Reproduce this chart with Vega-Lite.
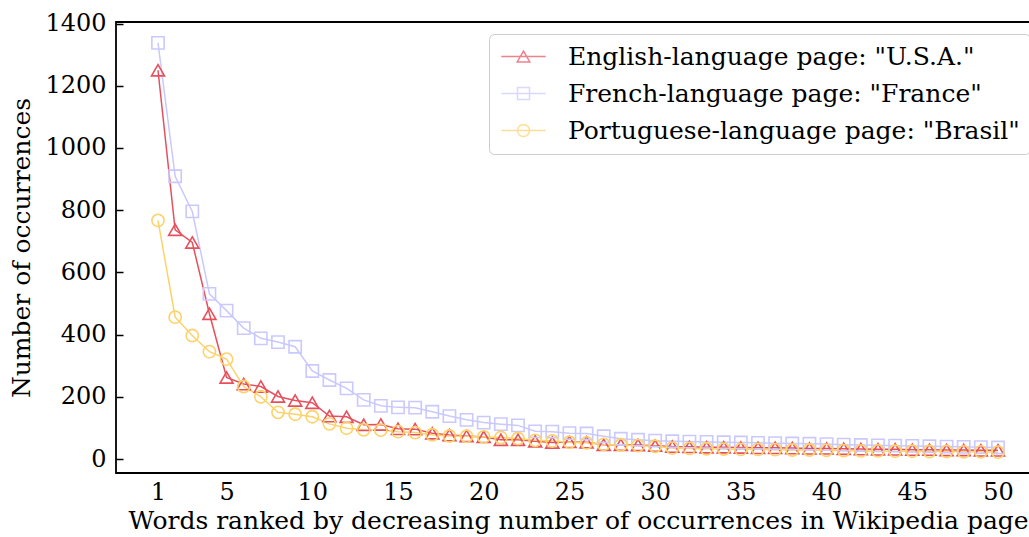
{
  "$schema": "https://vega.github.io/schema/vega-lite/v6.json",
  "width": 924,
  "height": 451,
  "autosize": {"type": "none"},
  "padding": {"left": 116, "top": 22, "right": 0, "bottom": 64},
  "background": "white",
  "config": {
    "font": "DejaVu Serif",
    "view": {"stroke": "#000000", "strokeWidth": 1.8},
    "axis": {
      "labelFont": "DejaVu Serif",
      "titleFont": "DejaVu Serif",
      "labelFontSize": 24,
      "titleFontSize": 25,
      "titleFontWeight": "normal",
      "labelColor": "#000000",
      "titleColor": "#000000",
      "grid": false,
      "domain": false
    }
  },
  "data": {
    "values": [
      {"rank": 1, "count": 1250, "page": "English-language page: \"U.S.A.\""},
      {"rank": 2, "count": 737, "page": "English-language page: \"U.S.A.\""},
      {"rank": 3, "count": 696, "page": "English-language page: \"U.S.A.\""},
      {"rank": 4, "count": 467, "page": "English-language page: \"U.S.A.\""},
      {"rank": 5, "count": 262, "page": "English-language page: \"U.S.A.\""},
      {"rank": 6, "count": 241, "page": "English-language page: \"U.S.A.\""},
      {"rank": 7, "count": 233, "page": "English-language page: \"U.S.A.\""},
      {"rank": 8, "count": 201, "page": "English-language page: \"U.S.A.\""},
      {"rank": 9, "count": 188, "page": "English-language page: \"U.S.A.\""},
      {"rank": 10, "count": 181, "page": "English-language page: \"U.S.A.\""},
      {"rank": 11, "count": 138, "page": "English-language page: \"U.S.A.\""},
      {"rank": 12, "count": 136, "page": "English-language page: \"U.S.A.\""},
      {"rank": 13, "count": 110, "page": "English-language page: \"U.S.A.\""},
      {"rank": 14, "count": 111, "page": "English-language page: \"U.S.A.\""},
      {"rank": 15, "count": 97, "page": "English-language page: \"U.S.A.\""},
      {"rank": 16, "count": 96, "page": "English-language page: \"U.S.A.\""},
      {"rank": 17, "count": 83, "page": "English-language page: \"U.S.A.\""},
      {"rank": 18, "count": 77, "page": "English-language page: \"U.S.A.\""},
      {"rank": 19, "count": 74, "page": "English-language page: \"U.S.A.\""},
      {"rank": 20, "count": 71, "page": "English-language page: \"U.S.A.\""},
      {"rank": 21, "count": 62, "page": "English-language page: \"U.S.A.\""},
      {"rank": 22, "count": 62, "page": "English-language page: \"U.S.A.\""},
      {"rank": 23, "count": 57, "page": "English-language page: \"U.S.A.\""},
      {"rank": 24, "count": 53, "page": "English-language page: \"U.S.A.\""},
      {"rank": 25, "count": 55, "page": "English-language page: \"U.S.A.\""},
      {"rank": 26, "count": 54, "page": "English-language page: \"U.S.A.\""},
      {"rank": 27, "count": 46, "page": "English-language page: \"U.S.A.\""},
      {"rank": 28, "count": 46, "page": "English-language page: \"U.S.A.\""},
      {"rank": 29, "count": 45, "page": "English-language page: \"U.S.A.\""},
      {"rank": 30, "count": 43, "page": "English-language page: \"U.S.A.\""},
      {"rank": 31, "count": 40, "page": "English-language page: \"U.S.A.\""},
      {"rank": 32, "count": 39, "page": "English-language page: \"U.S.A.\""},
      {"rank": 33, "count": 38, "page": "English-language page: \"U.S.A.\""},
      {"rank": 34, "count": 38, "page": "English-language page: \"U.S.A.\""},
      {"rank": 35, "count": 37, "page": "English-language page: \"U.S.A.\""},
      {"rank": 36, "count": 36, "page": "English-language page: \"U.S.A.\""},
      {"rank": 37, "count": 36, "page": "English-language page: \"U.S.A.\""},
      {"rank": 38, "count": 35, "page": "English-language page: \"U.S.A.\""},
      {"rank": 39, "count": 34, "page": "English-language page: \"U.S.A.\""},
      {"rank": 40, "count": 34, "page": "English-language page: \"U.S.A.\""},
      {"rank": 41, "count": 33, "page": "English-language page: \"U.S.A.\""},
      {"rank": 42, "count": 32, "page": "English-language page: \"U.S.A.\""},
      {"rank": 43, "count": 31, "page": "English-language page: \"U.S.A.\""},
      {"rank": 44, "count": 31, "page": "English-language page: \"U.S.A.\""},
      {"rank": 45, "count": 30, "page": "English-language page: \"U.S.A.\""},
      {"rank": 46, "count": 30, "page": "English-language page: \"U.S.A.\""},
      {"rank": 47, "count": 29, "page": "English-language page: \"U.S.A.\""},
      {"rank": 48, "count": 29, "page": "English-language page: \"U.S.A.\""},
      {"rank": 49, "count": 28, "page": "English-language page: \"U.S.A.\""},
      {"rank": 50, "count": 28, "page": "English-language page: \"U.S.A.\""},
      {"rank": 1, "count": 1338, "page": "French-language page: \"France\""},
      {"rank": 2, "count": 909, "page": "French-language page: \"France\""},
      {"rank": 3, "count": 796, "page": "French-language page: \"France\""},
      {"rank": 4, "count": 531, "page": "French-language page: \"France\""},
      {"rank": 5, "count": 477, "page": "French-language page: \"France\""},
      {"rank": 6, "count": 421, "page": "French-language page: \"France\""},
      {"rank": 7, "count": 388, "page": "French-language page: \"France\""},
      {"rank": 8, "count": 376, "page": "French-language page: \"France\""},
      {"rank": 9, "count": 361, "page": "French-language page: \"France\""},
      {"rank": 10, "count": 283, "page": "French-language page: \"France\""},
      {"rank": 11, "count": 254, "page": "French-language page: \"France\""},
      {"rank": 12, "count": 227, "page": "French-language page: \"France\""},
      {"rank": 13, "count": 190, "page": "French-language page: \"France\""},
      {"rank": 14, "count": 171, "page": "French-language page: \"France\""},
      {"rank": 15, "count": 166, "page": "French-language page: \"France\""},
      {"rank": 16, "count": 165, "page": "French-language page: \"France\""},
      {"rank": 17, "count": 152, "page": "French-language page: \"France\""},
      {"rank": 18, "count": 138, "page": "French-language page: \"France\""},
      {"rank": 19, "count": 126, "page": "French-language page: \"France\""},
      {"rank": 20, "count": 117, "page": "French-language page: \"France\""},
      {"rank": 21, "count": 112, "page": "French-language page: \"France\""},
      {"rank": 22, "count": 108, "page": "French-language page: \"France\""},
      {"rank": 23, "count": 89, "page": "French-language page: \"France\""},
      {"rank": 24, "count": 88, "page": "French-language page: \"France\""},
      {"rank": 25, "count": 83, "page": "French-language page: \"France\""},
      {"rank": 26, "count": 82, "page": "French-language page: \"France\""},
      {"rank": 27, "count": 73, "page": "French-language page: \"France\""},
      {"rank": 28, "count": 65, "page": "French-language page: \"France\""},
      {"rank": 29, "count": 62, "page": "French-language page: \"France\""},
      {"rank": 30, "count": 59, "page": "French-language page: \"France\""},
      {"rank": 31, "count": 57, "page": "French-language page: \"France\""},
      {"rank": 32, "count": 56, "page": "French-language page: \"France\""},
      {"rank": 33, "count": 55, "page": "French-language page: \"France\""},
      {"rank": 34, "count": 54, "page": "French-language page: \"France\""},
      {"rank": 35, "count": 53, "page": "French-language page: \"France\""},
      {"rank": 36, "count": 52, "page": "French-language page: \"France\""},
      {"rank": 37, "count": 51, "page": "French-language page: \"France\""},
      {"rank": 38, "count": 50, "page": "French-language page: \"France\""},
      {"rank": 39, "count": 49, "page": "French-language page: \"France\""},
      {"rank": 40, "count": 48, "page": "French-language page: \"France\""},
      {"rank": 41, "count": 46, "page": "French-language page: \"France\""},
      {"rank": 42, "count": 45, "page": "French-language page: \"France\""},
      {"rank": 43, "count": 44, "page": "French-language page: \"France\""},
      {"rank": 44, "count": 43, "page": "French-language page: \"France\""},
      {"rank": 45, "count": 42, "page": "French-language page: \"France\""},
      {"rank": 46, "count": 41, "page": "French-language page: \"France\""},
      {"rank": 47, "count": 40, "page": "French-language page: \"France\""},
      {"rank": 48, "count": 39, "page": "French-language page: \"France\""},
      {"rank": 49, "count": 38, "page": "French-language page: \"France\""},
      {"rank": 50, "count": 37, "page": "French-language page: \"France\""},
      {"rank": 1, "count": 767, "page": "Portuguese-language page: \"Brasil\""},
      {"rank": 2, "count": 456, "page": "Portuguese-language page: \"Brasil\""},
      {"rank": 3, "count": 397, "page": "Portuguese-language page: \"Brasil\""},
      {"rank": 4, "count": 345, "page": "Portuguese-language page: \"Brasil\""},
      {"rank": 5, "count": 321, "page": "Portuguese-language page: \"Brasil\""},
      {"rank": 6, "count": 233, "page": "Portuguese-language page: \"Brasil\""},
      {"rank": 7, "count": 200, "page": "Portuguese-language page: \"Brasil\""},
      {"rank": 8, "count": 150, "page": "Portuguese-language page: \"Brasil\""},
      {"rank": 9, "count": 144, "page": "Portuguese-language page: \"Brasil\""},
      {"rank": 10, "count": 136, "page": "Portuguese-language page: \"Brasil\""},
      {"rank": 11, "count": 113, "page": "Portuguese-language page: \"Brasil\""},
      {"rank": 12, "count": 99, "page": "Portuguese-language page: \"Brasil\""},
      {"rank": 13, "count": 94, "page": "Portuguese-language page: \"Brasil\""},
      {"rank": 14, "count": 93, "page": "Portuguese-language page: \"Brasil\""},
      {"rank": 15, "count": 88, "page": "Portuguese-language page: \"Brasil\""},
      {"rank": 16, "count": 85, "page": "Portuguese-language page: \"Brasil\""},
      {"rank": 17, "count": 78, "page": "Portuguese-language page: \"Brasil\""},
      {"rank": 18, "count": 74, "page": "Portuguese-language page: \"Brasil\""},
      {"rank": 19, "count": 73, "page": "Portuguese-language page: \"Brasil\""},
      {"rank": 20, "count": 71, "page": "Portuguese-language page: \"Brasil\""},
      {"rank": 21, "count": 69, "page": "Portuguese-language page: \"Brasil\""},
      {"rank": 22, "count": 66, "page": "Portuguese-language page: \"Brasil\""},
      {"rank": 23, "count": 60, "page": "Portuguese-language page: \"Brasil\""},
      {"rank": 24, "count": 58, "page": "Portuguese-language page: \"Brasil\""},
      {"rank": 25, "count": 54, "page": "Portuguese-language page: \"Brasil\""},
      {"rank": 26, "count": 52, "page": "Portuguese-language page: \"Brasil\""},
      {"rank": 27, "count": 47, "page": "Portuguese-language page: \"Brasil\""},
      {"rank": 28, "count": 45, "page": "Portuguese-language page: \"Brasil\""},
      {"rank": 29, "count": 43, "page": "Portuguese-language page: \"Brasil\""},
      {"rank": 30, "count": 41, "page": "Portuguese-language page: \"Brasil\""},
      {"rank": 31, "count": 35, "page": "Portuguese-language page: \"Brasil\""},
      {"rank": 32, "count": 34, "page": "Portuguese-language page: \"Brasil\""},
      {"rank": 33, "count": 33, "page": "Portuguese-language page: \"Brasil\""},
      {"rank": 34, "count": 32, "page": "Portuguese-language page: \"Brasil\""},
      {"rank": 35, "count": 31, "page": "Portuguese-language page: \"Brasil\""},
      {"rank": 36, "count": 31, "page": "Portuguese-language page: \"Brasil\""},
      {"rank": 37, "count": 30, "page": "Portuguese-language page: \"Brasil\""},
      {"rank": 38, "count": 29, "page": "Portuguese-language page: \"Brasil\""},
      {"rank": 39, "count": 29, "page": "Portuguese-language page: \"Brasil\""},
      {"rank": 40, "count": 28, "page": "Portuguese-language page: \"Brasil\""},
      {"rank": 41, "count": 27, "page": "Portuguese-language page: \"Brasil\""},
      {"rank": 42, "count": 26, "page": "Portuguese-language page: \"Brasil\""},
      {"rank": 43, "count": 26, "page": "Portuguese-language page: \"Brasil\""},
      {"rank": 44, "count": 25, "page": "Portuguese-language page: \"Brasil\""},
      {"rank": 45, "count": 25, "page": "Portuguese-language page: \"Brasil\""},
      {"rank": 46, "count": 24, "page": "Portuguese-language page: \"Brasil\""},
      {"rank": 47, "count": 24, "page": "Portuguese-language page: \"Brasil\""},
      {"rank": 48, "count": 23, "page": "Portuguese-language page: \"Brasil\""},
      {"rank": 49, "count": 23, "page": "Portuguese-language page: \"Brasil\""},
      {"rank": 50, "count": 22, "page": "Portuguese-language page: \"Brasil\""}
    ]
  },
  "encoding": {
    "x": {
      "field": "rank",
      "type": "quantitative",
      "scale": {"domain": [-1.45, 52.45], "nice": false, "zero": false},
      "axis": {
        "title": "Words ranked by decreasing number of occurrences in Wikipedia page",
        "values": [1, 5, 10, 15, 20, 25, 30, 35, 40, 45, 50],
        "format": "d",
        "ticks": false,
        "labelPadding": 7,
        "titlePadding": 4
      }
    },
    "y": {
      "field": "count",
      "type": "quantitative",
      "scale": {"domain": [-45, 1405], "nice": false, "zero": false},
      "axis": {
        "title": "Number of occurrences",
        "values": [0, 200, 400, 600, 800, 1000, 1200, 1400],
        "format": "d",
        "ticks": true,
        "tickSize": -7,
        "tickWidth": 1.5,
        "tickColor": "#000000",
        "labelPadding": 17,
        "titlePadding": 10
      }
    },
    "color": {
      "field": "page",
      "type": "nominal",
      "scale": {
        "domain": ["English-language page: \"U.S.A.\"", "French-language page: \"France\"", "Portuguese-language page: \"Brasil\""],
        "range": ["#e6505d", "#c9c9ff", "#fcd26b"]
      },
      "legend": {
        "title": null,
        "orient": "none",
        "legendX": 373,
        "legendY": 12,
        "labelFont": "DejaVu Serif",
        "labelFontSize": 25,
        "labelLimit": 800,
        "labelColor": "#000000",
        "symbolSize": 144,
        "symbolStrokeWidth": 1.5,
        "padding": 10,
        "rowPadding": 11,
        "symbolOffset": 12,
        "labelOffset": 32,
        "fillColor": "white",
        "strokeColor": "#cccccc",
        "cornerRadius": 5
      }
    }
  },
  "layer": [
    {
      "mark": {"type": "line", "strokeWidth": 1.5}
    },
    {
      "transform": [{"filter": "datum.rank > 1000"}],
      "mark": {"type": "point", "filled": false, "strokeWidth": 1.5, "size": 144},
      "encoding": {
        "shape": {
          "field": "page",
          "type": "nominal",
          "scale": {
            "domain": ["English-language page: \"U.S.A.\"", "French-language page: \"France\"", "Portuguese-language page: \"Brasil\""],
            "range": [
              "M-3.7,0L3.7,0M0,-0.9L-1.05,0.9L1.05,0.9Z",
              "M-3.7,0L3.7,0M-1,-1L1,-1L1,1L-1,1Z",
              "M-3.7,0L3.7,0M1,0A1,1,0,1,1,-1,0A1,1,0,1,1,1,0Z"
            ]
          },
          "legend": {
            "title": null,
            "orient": "none",
            "legendX": 373,
            "legendY": 12,
            "labelFont": "DejaVu Serif",
            "labelFontSize": 25,
            "labelLimit": 800,
            "labelColor": "#000000",
            "symbolSize": 144,
            "symbolStrokeWidth": 1.5,
            "padding": 10,
            "rowPadding": 11,
            "symbolOffset": 12,
            "labelOffset": 32,
            "fillColor": "white",
            "strokeColor": "#cccccc",
            "cornerRadius": 5
          }
        }
      }
    },
    {
      "transform": [{"filter": {"field": "page", "equal": "English-language page: \"U.S.A.\""}}],
      "mark": {"type": "point", "shape": "triangle-up", "filled": false, "strokeWidth": 1.6, "size": 170, "opacity": 1}
    },
    {
      "transform": [{"filter": {"field": "page", "equal": "French-language page: \"France\""}}],
      "mark": {"type": "point", "shape": "square", "filled": false, "strokeWidth": 1.6, "size": 150, "opacity": 1}
    },
    {
      "transform": [{"filter": {"field": "page", "equal": "Portuguese-language page: \"Brasil\""}}],
      "mark": {"type": "point", "shape": "circle", "filled": false, "strokeWidth": 1.6, "size": 150, "opacity": 1}
    }
  ]
}
